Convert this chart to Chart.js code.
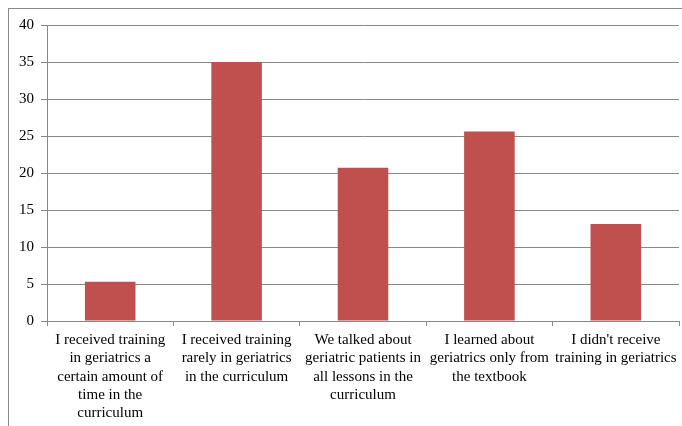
<!DOCTYPE html>
<html>
<head>
<meta charset="utf-8">
<script src="https://cdn.jsdelivr.net/npm/chart.js@4/dist/chart.umd.min.js"></script>
<style>
  html, body { margin: 0; padding: 0; background: #fff; }
  #wrap { position: relative; width: 682px; height: 426px; overflow: hidden; }
  #frame { position: absolute; left: 8px; top: 8px; width: 700px; height: 440px;
           border-left: 1px solid #8a8a8a; border-top: 1px solid #8a8a8a; }
  canvas { position: absolute; left: 0; top: 0; }
</style>
</head>
<body>
<div id="wrap">
  <div id="frame"></div>
  <canvas id="chart" width="682" height="426"></canvas>
</div>
<script>
// categories (multi-line labels as in the original)
const categories = [
    ['I received training', 'in geriatrics a', 'certain amount of', 'time in the', 'curriculum'],
    ['I received training', 'rarely in geriatrics', 'in the curriculum'],
    ['We talked about', 'geriatric patients in', 'all lessons in the', 'curriculum'],
    ['I learned about', 'geriatrics only from', 'the textbook'],
    ["I didn't receive", 'training in geriatrics']
];
const values = [5.3, 35, 20.7, 25.6, 13.1];
const yTicks = [0, 5, 10, 15, 20, 25, 30, 35, 40];

const font = { family: '"Liberation Serif", "DejaVu Serif", serif', size: 15, lineHeight: 1.22 };

new Chart(document.getElementById('chart').getContext('2d'), {
    type: 'bar',
    data: {
        labels: categories,
        datasets: [{
            data: values,
            backgroundColor: '#c0504d',
            borderWidth: 0,
            categoryPercentage: 0.8,
            barPercentage: 0.5
        }]
    },
    options: {
        responsive: false,
        animation: false,
        layout: { padding: { left: 0, right: 3, top: 25, bottom: 0 } },
        plugins: { legend: { display: false }, tooltip: { enabled: false } },
        scales: {
            y: {
                min: 0, max: 40,
                afterBuildTicks: s => { s.ticks = yTicks.map(v => ({ value: v })); },
                afterFit: s => { s.width = 47; },
                ticks: { font: font, color: '#000', padding: 7 },
                grid: { color: '#888', lineWidth: 1, tickLength: 6 },
                border: { color: '#888' }
            },
            x: {
                afterFit: s => { s.height = 105; },
                ticks: { font: font, color: '#000', padding: 5, maxRotation: 0, autoSkip: false },
                grid: { color: '#888', drawOnChartArea: false, tickLength: 5, offset: true },
                border: { color: '#888' }
            }
        }
    }
});
</script>
</body>
</html>
